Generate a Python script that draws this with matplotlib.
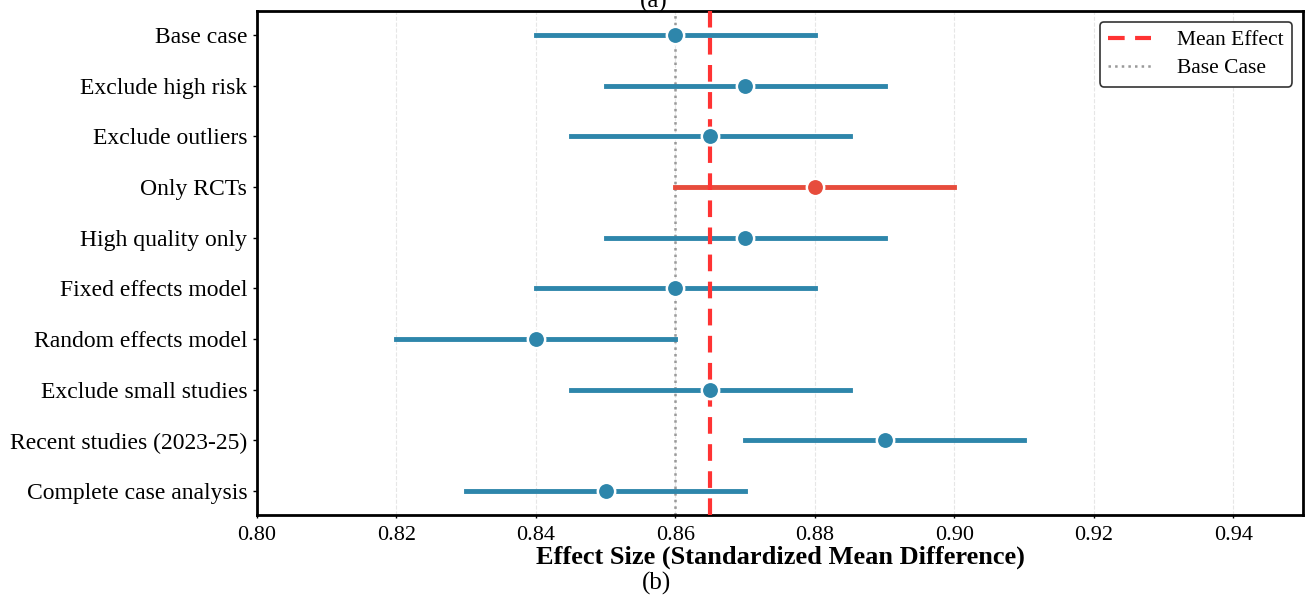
import matplotlib.pyplot as plt
import numpy as np

plt.rcParams['font.family'] = ['Liberation Serif', 'DejaVu Serif']

# sensitivity analyses, top to bottom
labels = ["Base case", "Exclude high risk", "Exclude outliers", "Only RCTs",
          "High quality only", "Fixed effects model", "Random effects model",
          "Exclude small studies", "Recent studies (2023-25)", "Complete case analysis"]
estimates = [0.86, 0.87, 0.865, 0.88, 0.87, 0.86, 0.84, 0.865, 0.89, 0.85]
ci_low = [0.84, 0.85, 0.845, 0.86, 0.85, 0.84, 0.82, 0.845, 0.87, 0.83]
ci_high = [0.88, 0.89, 0.885, 0.90, 0.89, 0.88, 0.86, 0.885, 0.91, 0.87]
highlight = "Only RCTs"

blue = "#2E86AB"
red = "#E74C3C"

fig = plt.figure(figsize=(13.08, 5.98), dpi=100)
ax = fig.add_axes([0.1965, 0.1388, 0.7997, 0.8428])

y = np.arange(len(labels))
for i, lab in enumerate(labels):
    c = red if lab == highlight else blue
    ax.plot([ci_low[i], ci_high[i]], [y[i], y[i]], color=c, linewidth=3.5,
            solid_capstyle='projecting', zorder=2)
    ax.plot(estimates[i], y[i], 'o', color=c, markersize=12.5,
            markeredgecolor='white', markeredgewidth=1.8, zorder=4)

mean_effect = np.mean(estimates)
ax.axvline(mean_effect, color='#FF3333', linestyle=(0, (4, 2.5)), linewidth=3,
           label='Mean Effect', zorder=3)
ax.axvline(estimates[0], color='#999999', linestyle=':', linewidth=1.8,
           label='Base Case', zorder=1)

ax.set_yticks(y)
ax.set_yticklabels(labels, fontsize=17)
ax.set_ylim(len(labels) - 0.53, -0.47)
ax.set_xlim(0.80, 0.95)
ticks = np.arange(0.80, 0.941, 0.02)
ax.set_xticks(ticks)
ax.set_xticklabels(["%.2f" % v for v in ticks], fontsize=16)
ax.tick_params(axis='y', length=3, width=1, pad=4)
ax.tick_params(axis='x', length=2, width=1, pad=6)
ax.grid(axis='x', linestyle='--', color='#E6E6E6', linewidth=0.8, zorder=0)
ax.set_axisbelow(True)
for s in ax.spines.values():
    s.set_linewidth(2)
    s.set_color('black')

ax.set_xlabel("Effect Size (Standardized Mean Difference)", fontsize=19,
              fontweight='bold', labelpad=0)

leg = ax.legend(loc='upper right', fontsize=15.5, frameon=True, fancybox=True,
                edgecolor='#333333', framealpha=1, handlelength=2.0,
                handletextpad=1.2, borderpad=0.4, labelspacing=0.35)
leg.get_frame().set_linewidth(1.2)

fig.text(0.5, 0.998, "(a)", ha='center', va='center', fontsize=18)
fig.text(0.502, 0.024, "(b)", ha='center', va='center', fontsize=18)

fig.savefig("out.png", dpi=100)
